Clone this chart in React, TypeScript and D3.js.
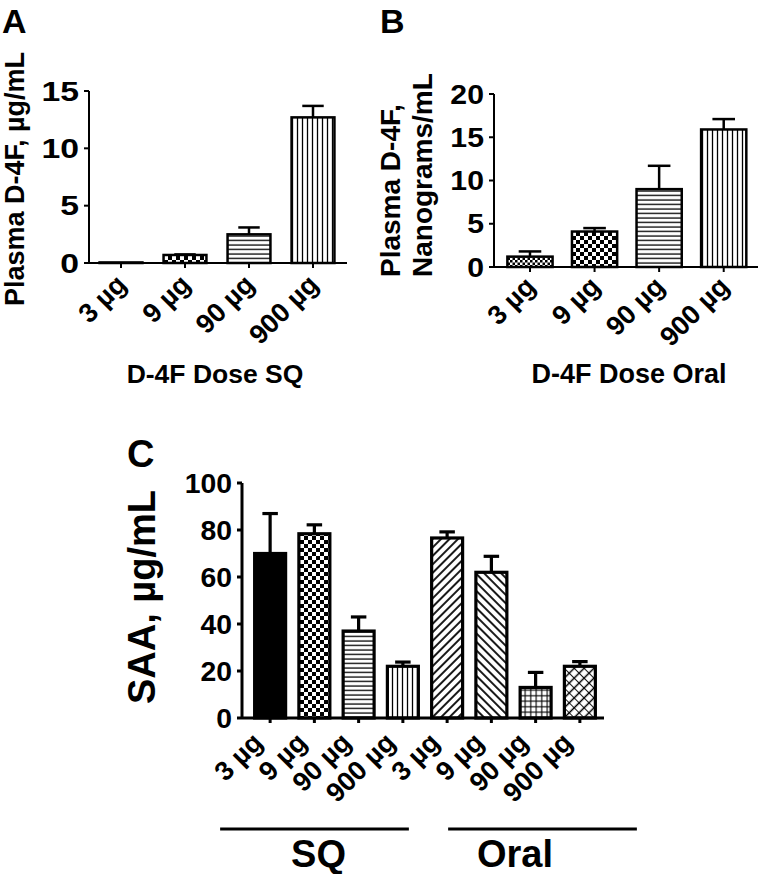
import React from "react";
import * as d3 from "d3";

const FONT = "'Liberation Sans', Arial, Helvetica, sans-serif";

// Panel A & B categories
const doseLabels = ["3 µg", "9 µg", "90 µg", "900 µg"];
// Panel A: plasma D-4F after SQ dosing (µg/mL)
const sqPlasmaMean = [0.05, 0.7, 2.5, 12.7];
const sqPlasmaSem = [0.0, 0.05, 0.6, 1.0];
// Panel B: plasma D-4F after oral dosing (ng/mL)
const oralPlasmaMean = [1.2, 4.1, 9.0, 15.9];
const oralPlasmaSem = [0.6, 0.4, 2.7, 1.2];
// Panel C: SAA (µg/mL)
const saaLabels = ["3 µg", "9 µg", "90 µg", "900 µg", "3 µg", "9 µg", "90 µg", "900 µg"];
const saaMean = [70, 78.4, 37, 22, 76.6, 62, 13, 22];
const saaSem = [17, 3.8, 6, 1.8, 2.6, 6.8, 6.4, 2];
const saaGroups = ["SQ", "Oral"];

const ticksA = [0, 5, 10, 15];
const ticksB = [0, 5, 10, 15, 20];
const ticksC = [0, 20, 40, 60, 80, 100];

const fillsA = ["url(#pChk)", "url(#pChk)", "url(#pH)", "url(#pV)"];
const fillsB = ["url(#pChkS)", "url(#pChk)", "url(#pH)", "url(#pV)"];
const fillsC = ["#000", "url(#pChk)", "url(#pH)", "url(#pV)", "url(#pD1)", "url(#pD2)", "url(#pGrid)", "url(#pX)"];

type PanelProps = {
  labels: string[];
  means: number[];
  sems: number[];
  ticks: number[];
  fills: string[];
  x0: number; x1: number; axisX: number;
  yTop: number; yBottom: number; yMax: number;
  pad: number; stroke: number; axisStroke: number;
  fontSize: number; tickFont: number; tickSx: number; lblDx: number; lblDy: number;
};

function BarPanel(p: PanelProps) {
  const idx = p.labels.map((_, i) => String(i));
  const x = d3.scaleBand<string>().domain(idx).range([p.x0, p.x1]).paddingInner(p.pad).paddingOuter(p.pad / 2);
  const y = d3.scaleLinear().domain([0, p.yMax]).range([p.yBottom, p.yTop]);
  const bw = x.bandwidth();
  const base = y(0);
  return (
    <g>
      {p.means.map((m, i) => {
        const bx = x(String(i))!;
        const cx = bx + bw / 2;
        const top = y(m + p.sems[i]);
        return (
          <g key={i}>
            {p.sems[i] > 0 && (
              <g stroke="#000" strokeWidth={p.stroke}>
                <line x1={cx} x2={cx} y1={y(m)} y2={top} />
                <line x1={cx - bw / 4} x2={cx + bw / 4} y1={top} y2={top} />
              </g>
            )}
            <rect x={bx} y={y(m)} width={bw} height={Math.max(0.5, base - y(m))}
              fill={p.fills[i]} stroke="#000" strokeWidth={p.stroke} />
          </g>
        );
      })}
      {/* axes */}
      <line x1={p.axisX} x2={p.axisX} y1={p.yTop} y2={base} stroke="#000" strokeWidth={p.axisStroke} />
      <line x1={p.axisX} x2={p.x1 + 2} y1={base} y2={base} stroke="#000" strokeWidth={p.axisStroke} />
      {p.ticks.map((t) => (
        <g key={t}>
          <line x1={p.axisX - 5} x2={p.axisX} y1={y(t)} y2={y(t)} stroke="#000" strokeWidth={p.axisStroke} />
          <text transform={`translate(${p.axisX - 10},${y(t)}) scale(${p.tickSx},1)`} dy="0.36em" textAnchor="end"
            fontSize={p.tickFont} fontWeight="bold" fontFamily={FONT}>{t}</text>
        </g>
      ))}
      {p.labels.map((l, i) => {
        const cx = x(String(i))! + bw / 2;
        return (
          <g key={i}>
            <line x1={cx} x2={cx} y1={base} y2={base + 5} stroke="#000" strokeWidth={p.axisStroke} />
            <text transform={`translate(${cx + p.lblDx},${base + p.lblDy}) rotate(-45)`} textAnchor="end"
              fontSize={p.fontSize} fontWeight="bold" fontFamily={FONT}>{l}</text>
          </g>
        );
      })}
    </g>
  );
}

export default function App() {
  const xC = d3.scaleBand<string>().domain(saaLabels.map((_, i) => String(i))).range([248, 602]);
  const cC = (i: number) => xC(String(i))! + xC.bandwidth() / 2;
  const groupLines = [
    { x1: cC(0) - 50, x2: cC(3) + 6, tx: (cC(0) + cC(3)) / 2 - 18 },
    { x1: cC(4) + 1, x2: cC(7) + 57, tx: (cC(4) + cC(7)) / 2 + 1.5 },
  ];
  return (
    <svg width={759} height={874} style={{ position: "absolute", left: 0, top: 0, background: "#fff" }}>
      <defs>
        <pattern id="pChk" width={8} height={8} patternUnits="userSpaceOnUse">
          <rect width={8} height={8} fill="#fff" />
          <rect width={4} height={4} fill="#000" />
          <rect x={4} y={4} width={4} height={4} fill="#000" />
        </pattern>
        <pattern id="pChkS" width={5} height={5} patternUnits="userSpaceOnUse">
          <rect width={5} height={5} fill="#fff" />
          <rect width={2.5} height={2.5} fill="#000" />
          <rect x={2.5} y={2.5} width={2.5} height={2.5} fill="#000" />
        </pattern>
        <pattern id="pH" width={6} height={4.5} patternUnits="userSpaceOnUse">
          <rect width={6} height={4.5} fill="#fff" />
          <line x1={0} x2={6} y1={2} y2={2} stroke="#000" strokeWidth={1.3} />
        </pattern>
        <pattern id="pV" width={5} height={6} patternUnits="userSpaceOnUse">
          <rect width={5} height={6} fill="#fff" />
          <line x1={2.5} x2={2.5} y1={0} y2={6} stroke="#000" strokeWidth={1.3} />
        </pattern>
        <pattern id="pD1" width={6} height={6} patternUnits="userSpaceOnUse" patternTransform="rotate(45)">
          <rect width={6} height={6} fill="#fff" />
          <line x1={3} x2={3} y1={0} y2={6} stroke="#000" strokeWidth={1.8} />
        </pattern>
        <pattern id="pD2" width={6} height={6} patternUnits="userSpaceOnUse" patternTransform="rotate(-45)">
          <rect width={6} height={6} fill="#fff" />
          <line x1={3} x2={3} y1={0} y2={6} stroke="#000" strokeWidth={1.8} />
        </pattern>
        <pattern id="pGrid" width={5.5} height={5.5} patternUnits="userSpaceOnUse">
          <rect width={5.5} height={5.5} fill="#fff" />
          <line x1={2.7} x2={2.7} y1={0} y2={5.5} stroke="#000" strokeWidth={1.1} />
          <line y1={2.7} y2={2.7} x1={0} x2={5.5} stroke="#000" strokeWidth={1.1} />
        </pattern>
        <pattern id="pX" width={7} height={7} patternUnits="userSpaceOnUse" patternTransform="rotate(45)">
          <rect width={7} height={7} fill="#fff" />
          <line x1={3.5} x2={3.5} y1={0} y2={7} stroke="#000" strokeWidth={1.5} />
          <line y1={3.5} y2={3.5} x1={0} x2={7} stroke="#000" strokeWidth={0.9} />
        </pattern>
      </defs>

      {/* Panel A */}
      <text x={2} y={33} fontSize={34} fontWeight="bold" fontFamily={FONT}>A</text>
      <text transform="translate(24,179) rotate(-90)" textAnchor="middle" fontSize={27} fontWeight="bold" fontFamily={FONT}>Plasma D-4F, µg/mL</text>
      <BarPanel labels={doseLabels} means={sqPlasmaMean} sems={sqPlasmaSem} ticks={ticksA} fills={fillsA}
        x0={89} x1={345} axisX={89} yTop={91} yBottom={263} yMax={15} pad={0.33}
        stroke={2.5} axisStroke={2} fontSize={27} tickFont={27} tickSx={1.25} lblDx={7} lblDy={23} />
      <text x={215} y={383} textAnchor="middle" fontSize={26.5} fontWeight="bold" fontFamily={FONT}>D-4F Dose SQ</text>

      {/* Panel B */}
      <text x={380} y={33} fontSize={34} fontWeight="bold" fontFamily={FONT}>B</text>
      <text transform="translate(400,277) rotate(-90)" textAnchor="start" fontSize={28} fontWeight="bold" fontFamily={FONT}>Plasma D-4F,</text>
      <text transform="translate(432,277) rotate(-90)" textAnchor="start" fontSize={28} fontWeight="bold" fontFamily={FONT}>Nanograms/mL</text>
      <BarPanel labels={doseLabels} means={oralPlasmaMean} sems={oralPlasmaSem} ticks={ticksB} fills={fillsB}
        x0={497.7} x1={756} axisX={494} yTop={94} yBottom={267} yMax={20} pad={0.3}
        stroke={2.5} axisStroke={2} fontSize={27} tickFont={27} tickSx={1.12} lblDx={7} lblDy={21} />
      <text x={629} y={383} textAnchor="middle" fontSize={27} fontWeight="bold" fontFamily={FONT}>D-4F Dose Oral</text>

      {/* Panel C */}
      <text x={127} y={467} fontSize={38} fontWeight="bold" fontFamily={FONT}>C</text>
      <text transform="translate(155,597) rotate(-90)" textAnchor="middle" fontSize={38} fontWeight="bold" fontFamily={FONT}>SAA, µg/mL</text>
      <BarPanel labels={saaLabels} means={saaMean} sems={saaSem} ticks={ticksC} fills={fillsC}
        x0={248} x1={602} axisX={242} yTop={483} yBottom={718} yMax={100} pad={0.3}
        stroke={3.2} axisStroke={3} fontSize={27} tickFont={27} tickSx={1.05} lblDx={-6} lblDy={26} />
      {saaGroups.map((g, gi) => (
        <g key={g}>
          <line x1={groupLines[gi].x1} x2={groupLines[gi].x2} y1={829} y2={829} stroke="#000" strokeWidth={3} />
          <text x={groupLines[gi].tx} y={867} textAnchor="middle" fontSize={38} fontWeight="bold" fontFamily={FONT}>{g}</text>
        </g>
      ))}
    </svg>
  );
}
